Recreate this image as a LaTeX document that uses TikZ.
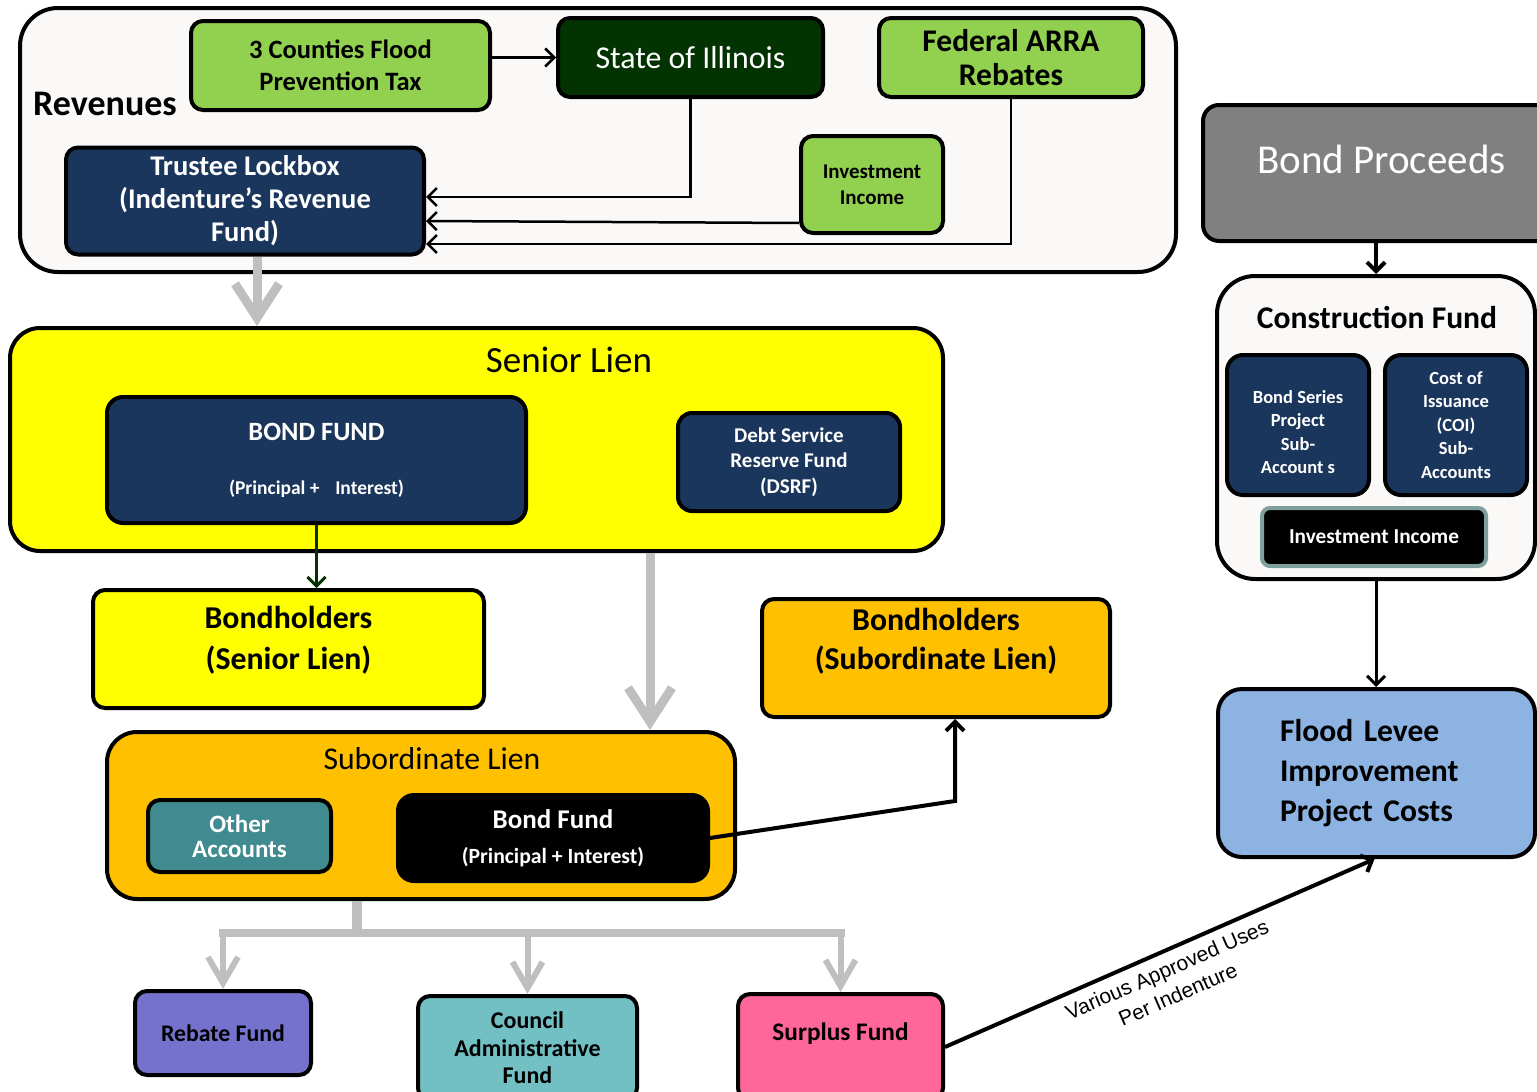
\documentclass[tikz,border=0pt]{standalone}
\usepackage{fontspec}
\setmainfont{Carlito}
\newfontfamily\arialfont{Liberation Sans}
\usetikzlibrary{calc}
\usetikzlibrary{arrows.meta}
\definecolor{offwhite}{HTML}{FAF9F7}
\definecolor{lgreen}{HTML}{92D050}
\definecolor{dkgreen}{HTML}{023301}
\definecolor{navy}{HTML}{1B365D}
\definecolor{pgray}{HTML}{808080}
\definecolor{lgray}{HTML}{BFBFBF}
\definecolor{ringgray}{HTML}{7F9F9F}
\definecolor{senioryellow}{HTML}{FFFF00}
\definecolor{amber}{HTML}{FFC000}
\definecolor{tealacc}{HTML}{3F8B8F}
\definecolor{skyblue}{HTML}{8DB3E2}
\definecolor{rebatepurple}{HTML}{7472CD}
\definecolor{aquafund}{HTML}{72BFC4}
\definecolor{surpluspink}{HTML}{FF6699}
\newcommand{\fsz}[2]{\fontsize{#1}{#2}\selectfont}
\tikzset{
  fund/.style = {draw=black, line width=4pt, rounded corners=12pt, align=center, inner sep=0pt},
  group/.style = {draw=black, line width=4pt, rounded corners=38pt, fill=offwhite}
}
\tikzset{
    >={Straight Barb[length=9pt,width=18pt]}
}
\tikzset{
  flow/.style = {draw=black, line width=2.5pt, ->},
  gflow/.style = {draw=lgray, line width=9pt, -{Straight Barb[length=34pt,width=44pt]}},
  gsmall/.style = {draw=lgray, line width=6pt, -{Straight Barb[length=26pt,width=30pt]}}
}
\begin{document}
\begin{tikzpicture}[x=1pt,y=-1pt]
\useasboundingbox (0,0) rectangle (1537,1092);

% Revenues
\node[group, minimum width=1156pt, minimum height=264pt] (rev) at (598,140) {};
\node[font=\bfseries\fsz{36}{40}] (revlabel) at (105,104) {Revenues};
\node[fund, fill=lgreen, minimum width=299pt, minimum height=89pt, font=\bfseries\fsz{26.5}{32}] (tax) at (340.5,65.5) {3 Counties Flood\\Prevention Tax};
\node[fund, fill=dkgreen, text=white, minimum width=265pt, minimum height=79pt, font=\fsz{31.8}{36}] (state) at (690.5,57.5) {State of Illinois};
\node[fund, fill=lgreen, minimum width=264pt, minimum height=79pt, font=\bfseries\fsz{31.5}{34}] (fed) at (1011,57.5) {Federal ARRA\\Rebates};
\node[fund, fill=navy, text=white, minimum width=358pt, minimum height=107pt, font=\bfseries\fsz{28.5}{33}] (trustee) at (245,201) {Trustee Lockbox\\(Indenture’s Revenue\\Fund)};
\node[fund, fill=lgreen, minimum width=142pt, minimum height=97pt, font=\bfseries\fsz{21}{26}] (inv) at (872,184.5) {Investment\\Income};

% Bond proceeds and construction fund
\node[fund, fill=pgray, text=white, rounded corners=16pt, minimum width=357pt, minimum height=136pt, font=\fsz{41}{46}, text height=20pt, text depth=20pt] (bproc) at (1381.5,173) {Bond Proceeds};
\node[group, minimum width=318pt, minimum height=303pt] (constr) at (1376,427.5) {};
\node[font=\bfseries\fsz{31.6}{36}] (constrlabel) at (1377,318) {Construction Fund};
\node[fund, fill=navy, text=white, rounded corners=16pt, minimum width=142pt, minimum height=140pt, font=\bfseries\fsz{18.5}{23.5}, text height=98pt] (bseries) at (1298,425) {Bond Series\\Project\\Sub-\\Account s};
\node[fund, fill=navy, text=white, rounded corners=16pt, minimum width=142pt, minimum height=140pt, font=\bfseries\fsz{18.5}{23.5}] (coi) at (1456,425) {Cost of\\Issuance\\(COI)\\Sub-\\Accounts};
\node[fund, fill=black, draw=ringgray, text=white, rounded corners=8pt, minimum width=224pt, minimum height=58pt, font=\bfseries\fsz{21.3}{26}] (cinv) at (1374,537) {Investment Income};
\node[fund, fill=skyblue, rounded corners=24pt, minimum width=317pt, minimum height=168pt, align=left, text width=193pt, font=\bfseries\fsz{31.6}{40}] (flood) at (1376.5,773) {Flood Levee\\Improvement\\Project Costs};

% Senior lien
\node[group, fill=senioryellow, rounded corners=30pt, minimum width=933pt, minimum height=223pt] (senior) at (476.5,439.5) {};
\node[font=\fsz{37}{40}] (seniorlabel) at (569,360) {Senior Lien};
\node[fund, fill=navy, text=white, rounded corners=16pt, minimum width=419pt, minimum height=126pt, font=\bfseries\fsz{19.5}{54}] (bondfund) at (316.5,460) {{\fsz{26.4}{30}BOND FUND}\\(Principal +\hspace{0.8em}Interest)};
\node[fund, fill=navy, text=white, rounded corners=14pt, minimum width=222pt, minimum height=98pt, font=\bfseries\fsz{21}{25.5}] (dsrf) at (789,462) {Debt Service\\Reserve Fund\\(DSRF)};
\node[fund, fill=senioryellow, minimum width=391pt, minimum height=118pt, font=\bfseries\fsz{31.8}{41}, text depth=23pt] (bhsenior) at (288.5,649) {Bondholders\\(Senior Lien)};
\node[fund, fill=amber, minimum width=348pt, minimum height=118pt, font=\bfseries\fsz{31.8}{39}, text depth=38pt] (bhsub) at (936,658) {Bondholders\\(Subordinate Lien)};

% Subordinate lien
\node[group, fill=amber, rounded corners=30pt, minimum width=628pt, minimum height=167pt] (sub) at (421,815.5) {};
\node[font=\fsz{31.7}{36}] (sublabel) at (432,759) {Subordinate Lien};
\node[fund, fill=tealacc, text=white, minimum width=183pt, minimum height=72pt, font=\bfseries\fsz{25}{25}] (other) at (239.5,836) {Other\\Accounts};
\node[fund, fill=black, text=white, rounded corners=16pt, minimum width=310pt, minimum height=86pt, font=\bfseries\fsz{21.7}{35}] (subbond) at (553,838) {{\fsz{27}{30}Bond Fund}\\(Principal + Interest)};

% Funds below
\node[fund, fill=rebatepurple, minimum width=176pt, minimum height=84pt, font=\bfseries\fsz{23.8}{28}] (rebate) at (223,1033) {Rebate Fund};
\node[fund, fill=aquafund, minimum width=219pt, minimum height=104pt, font=\bfseries\fsz{24}{27.5}] (council) at (527.5,1048) {Council\\Administrative\\Fund};
\node[fund, fill=surpluspink, minimum width=205pt, minimum height=106pt, font=\bfseries\fsz{25.3}{30}, text height=20pt, text depth=34pt] (surplus) at (840.5,1047) {Surplus Fund};

% Revenue flows
\draw[flow] (tax.east |- state.west) -- (state.west);
\draw[flow] (state.south) |- ($(trustee.east)+(0,-4)$);
\draw[flow] ($(inv.south west)+(0,-12)$) -- ($(trustee.east)+(0,20)$);
\draw[flow] (fed.south) |- ($(trustee.east)+(0,43)$);

% Lien flows
\draw[gflow] ($(trustee.south)+(12,0)$) coordinate (tl) -- (tl |- senior.north);
\draw[flow, draw=dkgreen, line width=3pt] (bondfund.south) -- (bondfund.south |- bhsenior.north);
\draw[gflow] ($(senior.south)+(173.5,0)$) coordinate (sl) -- (sl |- sub.north);
\coordinate (kink) at (955,801);
\draw[flow, line width=4pt] (subbond.east) -- (kink) -- (kink |- bhsub.south);

% Split to the funds
\coordinate (trunk) at (357,933);
\draw[lgray, line width=10pt] (trunk |- sub.south) -- (trunk);
\draw[lgray, line width=8pt, line cap=rect] (rebate.north |- trunk) -- (surplus.north |- trunk);
\foreach \f in {rebate,council,surplus}
  \draw[gsmall] (\f.north |- trunk) -- (\f.north);

% Construction flows
\draw[flow, line width=4pt] (constr.north |- bproc.south) -- (constr.north);
\draw[flow, line width=3pt] (constr.south) -- (constr.south |- flood.north);
\draw[flow, line width=4pt] (surplus.east) -- node[sloped, below=5pt, align=center, font=\arialfont\fsz{21}{27}] (uses) {Various Approved Uses\\Per Indenture} ($(flood.south)+(-2,0)$);
\end{tikzpicture}
\end{document}
